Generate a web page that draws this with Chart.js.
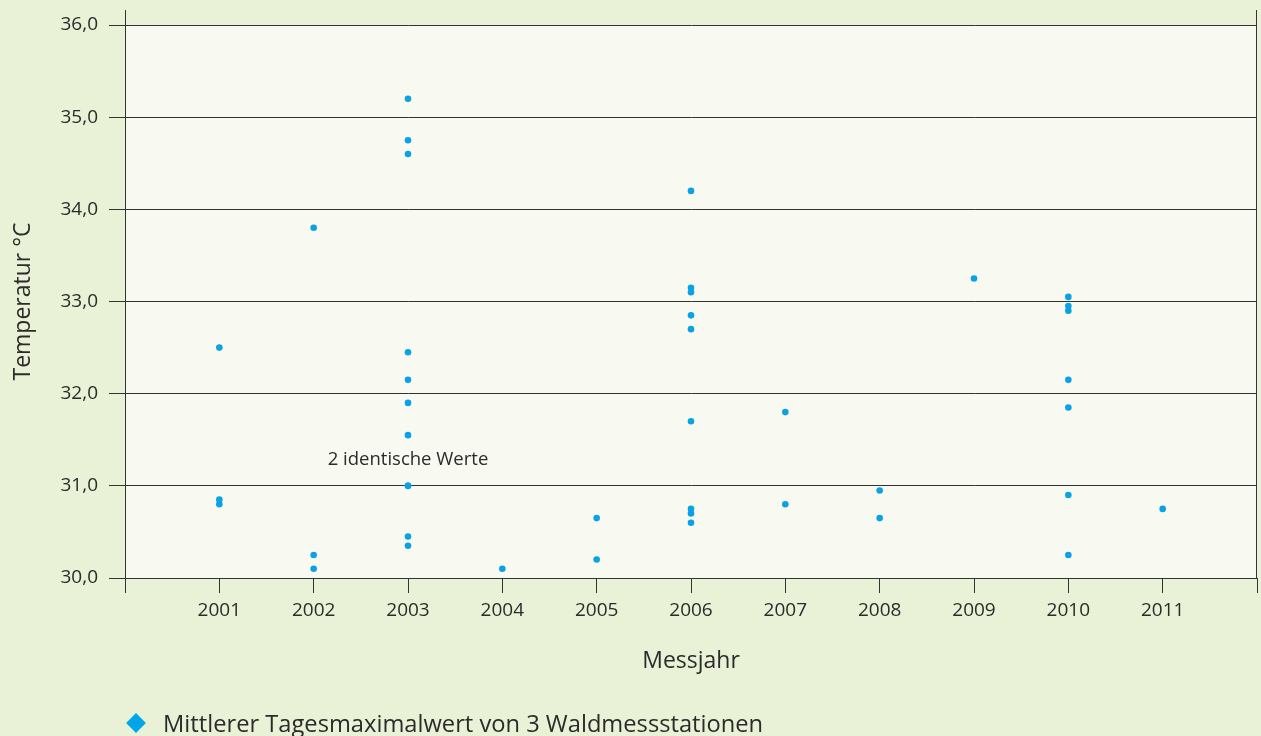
<!DOCTYPE html>
<html lang="de">
<head>
<meta charset="utf-8">
<title>Temperatur Waldmessstationen</title>
<script src="https://cdn.jsdelivr.net/npm/chart.js@4.4.0/dist/chart.umd.min.js"></script>
<style>
    html, body {
        margin: 0;
        overflow: hidden;
        background: #e9f2d6;
        font-family: "Open Sans", sans-serif;
        color: #2b2b2b;
    }
    .chart-wrap {
        position: relative;
        width: 1261px;
        height: 736px;
    }
    .chart-wrap canvas {
        display: block;
    }
    .legend {
        position: absolute;
        left: 129px;
        top: 708px;
        font-size: 23.7px;
        line-height: 30px;
        display: flex;
        align-items: center;
        white-space: nowrap;
    }
    .legend .marker {
        display: inline-block;
        width: 14px;
        height: 14px;
        background: #00a6e8;
        transform: rotate(45deg);
        margin-right: 20px;
    }
</style>
</head>
<body>
<div class="chart-wrap">
    <canvas id="temp-chart" width="1261" height="736"></canvas>
    <div class="legend"><span class="marker"></span><span id="legend-label"></span></div>
</div>
<script>
// Messjahr und Temperatur je Punkt (gleiche Reihenfolge)
const years = [
    2001, 2001, 2001,
    2002, 2002, 2002,
    2003, 2003, 2003, 2003, 2003, 2003, 2003, 2003, 2003, 2003, 2003,
    2004,
    2005, 2005,
    2006, 2006, 2006, 2006, 2006, 2006, 2006, 2006, 2006,
    2007, 2007,
    2008, 2008,
    2009,
    2010, 2010, 2010, 2010, 2010, 2010, 2010,
    2011
];
const temps = [
    32.5, 30.85, 30.8,
    33.8, 30.25, 30.1,
    35.2, 34.75, 34.6, 32.45, 32.15, 31.9, 31.55, 31.0, 31.0, 30.45, 30.35,
    30.1,
    30.65, 30.2,
    34.2, 33.15, 33.1, 32.85, 32.7, 31.7, 30.75, 30.7, 30.6,
    31.8, 30.8,
    30.95, 30.65,
    33.25,
    33.05, 32.95, 32.9, 32.15, 31.85, 30.9, 30.25,
    30.75
];
const yearTicks = [2001, 2002, 2003, 2004, 2005, 2006, 2007, 2008, 2009, 2010, 2011];
const seriesLabel = 'Mittlerer Tagesmaximalwert von 3 Waldmessstationen';
const noteText = '2 identische Werte';
const noteYear = 2003;
const noteTemp = 31.28;

const textColor = '#2b2b2b';
const lineColor = '#333333';
const dotColor = '#0aa2e4';

document.getElementById('legend-label').textContent = seriesLabel;

const points = years.map((y, i) => ({ x: y, y: temps[i] }));

// Plot background, frame lines above the top grid line, and the note
const framePlugin = {
    id: 'frame',
    beforeDraw(chart) {
        const { ctx, chartArea: a } = chart;
        ctx.save();
        ctx.fillStyle = '#f8faf1';
        ctx.fillRect(a.left, a.top, a.right - a.left, a.bottom - a.top);
        ctx.restore();
    },
    afterDraw(chart) {
        const { ctx, chartArea: a, scales } = chart;
        ctx.save();
        ctx.strokeStyle = lineColor;
        ctx.lineWidth = 1;
        ctx.beginPath();
        ctx.moveTo(a.left + 0.5, 10);
        ctx.lineTo(a.left + 0.5, a.top);
        ctx.moveTo(a.right - 0.5, 10);
        ctx.lineTo(a.right - 0.5, a.bottom);
        ctx.stroke();

        ctx.fillStyle = textColor;
        ctx.font = '18.5px "Open Sans"';
        ctx.textAlign = 'center';
        ctx.textBaseline = 'middle';
        ctx.fillText(noteText, scales.x.getPixelForValue(noteYear), scales.y.getPixelForValue(noteTemp));
        ctx.restore();
    }
};

const ctx = document.getElementById('temp-chart').getContext('2d');
const tempChart = new Chart(ctx, {
    type: 'scatter',
    data: {
        datasets: [{
            label: seriesLabel,
            data: points,
            backgroundColor: dotColor,
            borderColor: dotColor,
            borderWidth: 0,
            pointRadius: 3.3,
            pointHoverRadius: 4
        }]
    },
    options: {
        responsive: false,
        animation: false,
        layout: {
            padding: { top: 25, right: 0, bottom: 57, left: 0 }
        },
        plugins: {
            legend: { display: false },
            tooltip: { enabled: false }
        },
        scales: {
            x: {
                type: 'linear',
                min: 2000,
                max: 2012,
                afterFit: function(scale) {
                    scale.height = 101;
                    // no extra side padding, the first and last labels are empty
                    scale.paddingLeft = 0;
                    scale.paddingRight = 0;
                },
                afterBuildTicks: function(scale) {
                    scale.ticks = [2000].concat(yearTicks, [2012]).map(v => ({ value: v }));
                },
                ticks: {
                    color: textColor,
                    font: { family: 'Open Sans', size: 19 },
                    padding: 6,
                    maxRotation: 0,
                    callback: function(value) {
                        return yearTicks.includes(value) ? String(value) : '';
                    }
                },
                grid: {
                    drawOnChartArea: false,
                    drawTicks: true,
                    tickLength: 15,
                    color: lineColor
                },
                border: { display: true, color: lineColor },
                title: {
                    display: true,
                    text: 'Messjahr',
                    color: textColor,
                    font: { family: 'Open Sans', size: 23 },
                    padding: { top: 0, bottom: 4 }
                }
            },
            y: {
                min: 30,
                max: 36,
                afterFit: function(scale) { scale.width = 125; },
                ticks: {
                    stepSize: 1,
                    color: textColor,
                    font: { family: 'Open Sans', size: 19 },
                    padding: 11,
                    callback: function(value) {
                        return value.toFixed(1).replace('.', ',');
                    }
                },
                grid: {
                    color: lineColor,
                    lineWidth: 1,
                    tickLength: 16
                },
                border: { display: true, color: lineColor },
                title: {
                    display: true,
                    text: 'Temperatur °C',
                    color: textColor,
                    font: { family: 'Open Sans', size: 23 },
                    padding: { top: 10, bottom: 0 }
                }
            }
        }
    },
    plugins: [framePlugin]
});
</script>
</body>
</html>
